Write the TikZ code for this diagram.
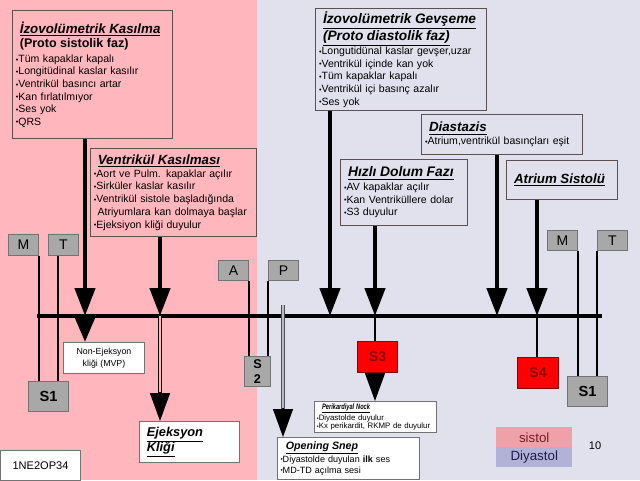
\documentclass[tikz,border=0pt]{standalone}
\usepackage{fontspec}
\setmainfont{Liberation Sans}
\usepackage{graphicx}
\usetikzlibrary{arrows.meta,calc}
\definecolor{pinkbg}{RGB}{255,182,188}
\definecolor{lavbg}{RGB}{225,225,238}
\definecolor{boxline}{RGB}{95,80,80}
\definecolor{grayfill}{RGB}{168,168,168}
\definecolor{grayline}{RGB}{115,115,115}
\definecolor{sred}{RGB}{255,0,0}
\definecolor{sredtext}{RGB}{140,0,0}
\definecolor{sisfill}{RGB}{240,160,168}
\definecolor{diyfill}{RGB}{178,178,215}
\definecolor{sistext}{RGB}{120,30,40}
\definecolor{diytext}{RGB}{30,30,80}
\definecolor{dblgray}{RGB}{80,80,80}
\definecolor{dblin}{RGB}{185,185,195}
\newcommand\mytitle[1]{\textbf{\textit{\underline{#1}}}}
\newcommand\bul{\raisebox{0.3pt}{\scalebox{0.7}{•}}}
\newcommand\tsz{\fontsize{10}{11.5}\selectfont}
\begin{document}
\begin{tikzpicture}[x=0.75pt,y=-0.75pt,
  lbox/.style={draw=boxline, line width=0.75pt, anchor=north west, align=left,
    inner xsep=2.5pt, inner ysep=0pt, font=\fontsize{7.9}{9.4}\selectfont},
  gbox/.style={draw=grayline, fill=grayfill, line width=0.75pt, anchor=north west,
    inner sep=0pt, font=\fontsize{10.5}{12}\selectfont},
  sbox/.style={gbox, font=\bfseries\fontsize{11}{12}\selectfont},
  redbox/.style={draw=sredtext, fill=sred, text=sredtext, line width=0.75pt, anchor=north west,
    inner sep=0pt, font=\bfseries\fontsize{10.5}{12}\selectfont},
  wbox/.style={draw=grayline, fill=white, line width=0.75pt, anchor=north west, inner sep=0pt},
  bigarrow/.style={line width=3.4pt, -{Triangle[width=15pt,length=21pt]}},
  headonly/.style={line width=1pt, -{Triangle[width=15pt,length=21pt]}},
  thinl/.style={line width=1.5pt},
  tline/.style={line width=3pt},
  dblline/.style={draw=black, line width=1.1pt, double=pinkbg, double distance=1.3pt},
  grydbl/.style={draw=dblgray, line width=1pt, double=dblin, double distance=1.4pt}
]
\useasboundingbox (0,0) rectangle (640,480);
\fill[pinkbg] (0,0) rectangle (257,480);
\fill[lavbg] (257,0) rectangle (640,480);

% text boxes
\node[lbox, fill=pinkbg, minimum width=120pt, minimum height=96pt, text width=115pt] (iso) at (12,10)
 {{\tsz\hspace*{3pt}\mytitle{İzovolümetrik Kasılma}}\\[1pt]
  {\fontsize{9.4}{11}\selectfont\hspace*{3pt}\textbf{(Proto sistolik faz)}}\\[2pt]
  \bul Tüm kapaklar kapalı\\ \bul Longitüdinal kaslar kasılır\\ \bul Ventrikül basıncı artar\\
  \bul Kan fırlatılmıyor\\ \bul Ses yok\\ \bul QRS};
\node[lbox, fill=pinkbg, minimum width=124.5pt, minimum height=66pt, text width=119.5pt,
  font=\fontsize{7.9}{9.6}\selectfont] (vk) at (90,148)
 {{\tsz\hspace*{3pt}\mytitle{Ventrikül Kasılması}}\\
  \bul Aort ve Pulm. kapaklar açılır\\ \bul Sirküler kaslar kasılır\\
  \bul Ventrikül sistole başladığında\\ \hspace*{2.8pt}Atriyumlara kan dolmaya başlar\\
  \bul Ejeksiyon kliği duyulur};
\node[lbox, fill=lavbg, minimum width=128.25pt, minimum height=76.5pt, text width=123pt,
  font=\fontsize{7.9}{9.5}\selectfont] (gev) at (315,8)
 {{\fontsize{10.3}{11.5}\selectfont\hspace*{3pt}\mytitle{İzovolümetrik Gevşeme}}\\
  {\fontsize{10.3}{11.5}\selectfont\hspace*{3pt}\mytitle{(Proto diastolik faz)}}\\
  \bul Longutidünal kaslar gevşer,uzar\\ \bul Ventrikül içinde kan yok\\ \bul Tüm kapaklar kapalı\\
  \bul Ventrikül içi basınç azalır\\ \bul Ses yok};
\node[lbox, fill=lavbg, minimum width=120.75pt, minimum height=30pt, text width=115.5pt] (dia) at (421,114)
 {{\tsz\hspace*{3pt}\mytitle{Diastazis}}\\
  \bul Atrium,ventrikül basınçları eşit};
\node[lbox, fill=lavbg, minimum width=95.25pt, minimum height=49.5pt, text width=90pt] (hdf) at (340,159)
 {{\fontsize{10.4}{11.5}\selectfont\hspace*{3pt}\mytitle{Hızlı Dolum Fazı}}\\[1pt]
  \bul AV kapaklar açılır\\ \bul Kan Ventriküllere dolar\\ \bul S3 duyulur};
\node[lbox, fill=lavbg, minimum width=83.25pt, minimum height=29.25pt, text width=78pt] (ats) at (506,160)
 {{\tsz\hspace*{3pt}\mytitle{Atrium Sistolü}}};
\node[wbox, minimum width=60.75pt, minimum height=23.25pt, align=center,
  font=\fontsize{6.6}{9}\selectfont] (nonej) at (63,342) {Non-Ejeksyon\\kliği (MVP)};
\node[wbox, minimum width=75pt, minimum height=30.75pt, align=left, text width=70pt, inner xsep=2.5pt,
  font=\fontsize{9.6}{11.5}\selectfont] (ejek) at (139,421) {\hspace*{3pt}\mytitle{Ejeksyon}\\\hspace*{3pt}\mytitle{Kliği}};
\node[wbox, minimum width=91.5pt, minimum height=23.25pt, align=left, text width=88pt, inner xsep=1.75pt,
  font=\fontsize{5.9}{6.3}\selectfont] (peri) at (314,401)
 {\hspace*{4pt}\scalebox{0.72}[1]{\mytitle{Perikardiyal Nock}}\\ \bul Diyastolde duyulur\\ \bul Kx perikardit, RKMP de duyulur};
\node[wbox, minimum width=106.5pt, minimum height=31.5pt, align=left, text width=102pt, inner xsep=2.25pt,
  font=\fontsize{6.8}{8.3}\selectfont] (open) at (277,437)
 {{\fontsize{8}{9}\selectfont\hspace*{4pt}\mytitle{Opening Snep}}\\ \bul Diyastolde duyulan \textbf{ilk} ses\\ \bul MD-TD açılma sesi};
\node[wbox, minimum width=60pt, minimum height=22.5pt, font=\fontsize{8.3}{10}\selectfont] (code) at (0,450) {1NE2OP34};

% legend
\node[anchor=north west, fill=sisfill, text=sistext, minimum width=57pt, minimum height=15pt, inner sep=0pt,
  font=\fontsize{10}{12}\selectfont] (sis) at (496,427) {sistol};
\node[anchor=north west, fill=diyfill, text=diytext, minimum width=57pt, minimum height=15pt, inner sep=0pt,
  font=\fontsize{10}{12}\selectfont] (diy) at (496,447) {Diyastol};
\node[font=\fontsize{8.3}{10}\selectfont, inner sep=0pt] (pg) at (595,446) {10};

% valve boxes
\node[gbox, minimum width=22.5pt, minimum height=15.5pt] (ml) at (8,234) {M};
\node[gbox, minimum width=22.5pt, minimum height=15.5pt] (tl) at (48,234) {T};
\node[gbox, minimum width=22.5pt, minimum height=15pt] (av) at (218,260) {A};
\node[gbox, minimum width=22.5pt, minimum height=15pt] (pv) at (268,260) {P};
\node[gbox, minimum width=22.5pt, minimum height=15pt] (mr) at (547,230) {M};
\node[gbox, minimum width=22.5pt, minimum height=15pt] (tr) at (597,230) {T};
\node[sbox, minimum width=30pt, minimum height=22.5pt] (s1l) at (28,381) {S1};
\node[sbox, minimum width=19.5pt, minimum height=22.5pt, align=center,
  font=\bfseries\fontsize{9.5}{11}\selectfont] (s2) at (244,356) {S\\2};
\node[redbox, minimum width=30pt, minimum height=23.25pt] (s3) at (357,341) {S3};
\node[redbox, minimum width=30.75pt, minimum height=23.25pt] (s4) at (517,357) {S4};
\node[sbox, minimum width=30pt, minimum height=22.5pt] (s1r) at (567,376) {S1};

% timeline
\coordinate (tla) at (37,316);
\coordinate (tlb) at (602,316);
\draw[tline] (tla) -- (tlb);
\coordinate (t1) at (85,316);
\coordinate (t2) at (160,316);
\coordinate (t3) at (330,316);
\coordinate (t4) at (375,316);
\coordinate (t5) at (497,316);
\coordinate (t6) at (537,316);
\coordinate (gtop) at (283,305);

% valve lines
\draw[thinl] (ml.south east) -- (ml.south east |- s1l.north);
\draw[thinl] ([xshift=7.5pt]tl.south west) -- ([xshift=7.5pt]tl.south west |- s1l.north);
\draw[thinl] (av.south east) -- (av.south east |- s2.north);
\draw[thinl] (pv.south west) -- (pv.south west |- s2.north);
\draw[thinl] (mr.south east) -- (mr.south east |- s1r.north);
\draw[thinl] (tr.south west) -- (tr.south west |- s1r.north);

% phase arrows
\draw[bigarrow] (t1 |- iso.south) -- (t1);
\draw[bigarrow, -{Triangle[width=15pt,length=19pt]}] (t1) -- (t1 |- nonej.north);
\draw[bigarrow] (t2 |- vk.south) -- (t2);
\draw[dblline, shorten >=20pt] (t2) -- (t2 |- ejek.north);
\draw[headonly] ($(t2 |- ejek.north)+(0,-29)$) -- (t2 |- ejek.north);
\draw[grydbl, shorten >=20pt] (gtop) -- (gtop |- open.north);
\draw[headonly] ($(gtop |- open.north)+(0,-29)$) -- (gtop |- open.north);
\draw[bigarrow] (t3 |- gev.south) -- (t3);
\draw[bigarrow] (t4 |- hdf.south) -- (t4);
\draw[thinl] (t4) -- (t4 |- s3.north);
\draw[headonly] (t4 |- s3.south) -- (t4 |- peri.north);
\draw[bigarrow] (t5 |- dia.south) -- (t5);
\draw[bigarrow] (t6 |- ats.south) -- (t6);
\draw[thinl] (t6) -- (t6 |- s4.north);
\end{tikzpicture}
\end{document}
